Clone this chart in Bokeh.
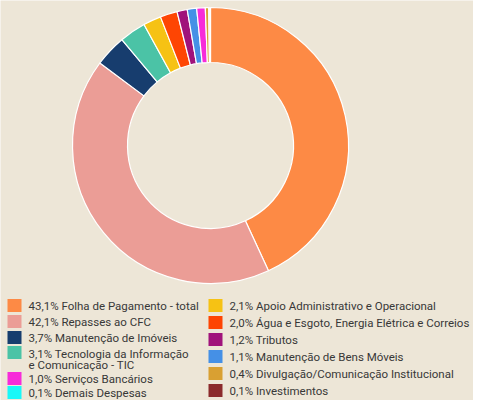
import numpy as np
from bokeh.plotting import figure
from bokeh.models import Range1d, ColumnDataSource
from bokeh.core.properties import value
from bokeh.embed import file_html
from bokeh.resources import INLINE

# ---- data ----
names = [
    "Folha de Pagamento - total",
    "Repasses ao CFC",
    "Manutenção de Imóveis",
    "Tecnologia da Informação|e Comunicação - TIC",
    "Apoio Administrativo e Operacional",
    "Água e Esgoto, Energia Elétrica e Correios",
    "Tributos",
    "Manutenção de Bens Móveis",
    "Serviços Bancários",
    "Divulgação/Comunicação Institucional",
    "Demais Despesas",
    "Investimentos",
]
shares = [43.1, 42.1, 3.7, 3.1, 2.1, 2.0, 1.2, 1.1, 1.0, 0.4, 0.1, 0.1]
colors = ["#FD8A45", "#EB9D96", "#173D6E", "#4BC3A6", "#F6C214", "#FE4503",
          "#A0137B", "#4590E6", "#F72BD9", "#D9A032", "#18F8F8", "#8B2A2C"]
legend_col1 = [0, 1, 2, 3, 8, 10]
legend_col2 = [4, 5, 6, 7, 9, 11]

BG = "#EDE6D7"
TXT = "#383838"

W, H = 473, 400
p = figure(width=W, height=H, output_backend="svg", toolbar_location=None,
           x_range=Range1d(0, W), y_range=Range1d(0, H),
           min_border=0, background_fill_color=BG, border_fill_color=BG)
p.axis.visible = False
p.grid.visible = False
p.outline_line_color = None

def Y(img_y):
    return H - img_y

# ---- donut ----
vals = np.array(shares)
frac = vals / vals.sum()
cum = np.concatenate([[0], np.cumsum(frac)])
start = np.pi / 2 - cum[:-1] * 2 * np.pi
end = np.pi / 2 - cum[1:] * 2 * np.pi
src = ColumnDataSource(dict(start=start, end=end, color=colors))
p.annular_wedge(x=210, y=Y(145), inner_radius=83, outer_radius=138,
                start_angle="start", end_angle="end", direction="clock",
                fill_color="color", line_color="white", line_width=1.2,
                source=src)

# ---- legend ----
def label(i):
    pct = f"{shares[i]:.1f}".replace(".", ",") + "%"
    return (pct + " " + names[i]).split("|")

rows1 = [305, 321, 337, 353, 378, 392]
rows2 = [305, 322, 339, 356, 373, 390]

def draw_col(idxs, rows, sx, tx):
    for i, ry in zip(idxs, rows):
        lines = label(i)
        sq_y = ry if len(lines) == 1 else ry - 1
        p.rect(x=sx + 7, y=Y(sq_y), width=14, height=13, fill_color=colors[i],
               line_color=None)
        for k, t in enumerate(lines):
            p.text(x=[tx], y=[Y(ry + k * 11)], text=[t], text_font=value("Roboto"),
                   text_font_size="11.5px", text_color=TXT,
                   text_baseline="middle", text_align="left")

draw_col(legend_col1, rows1, 7, 28)
draw_col(legend_col2, rows2, 208, 229)

html = file_html(p, INLINE)
html = html.replace("<body>", f'<body style="background:{BG}">', 1)
open("out.html", "w").write(html)
